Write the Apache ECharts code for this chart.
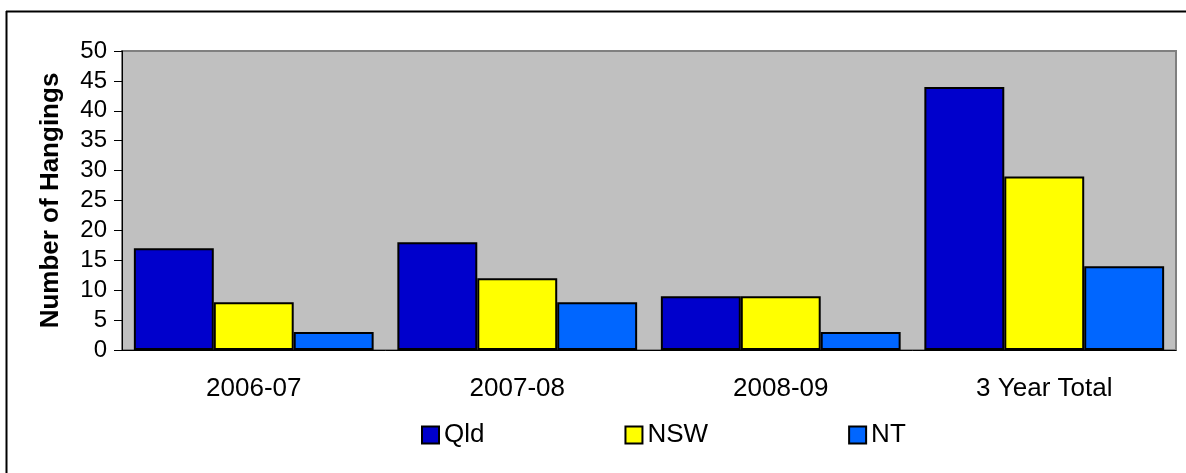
<!DOCTYPE html>
<html>
<head>
<meta charset="utf-8">
<title>Hangings</title>
<script src="https://cdn.jsdelivr.net/npm/echarts@6/dist/echarts.min.js"></script>
<style>
  html, body { margin: 0; padding: 0; background: #fff; }
  #chart { width: 1186px; height: 473px; }
</style>
</head>
<body>
<div id="chart"></div>
<script>
// data
const categories = ['2006-07', '2007-08', '2008-09', '3 Year Total'];
const qld = [17, 18, 9, 44];
const nsw = [8, 12, 9, 29];
const nt = [3, 8, 3, 14];
const yTicks = [0, 5, 10, 15, 20, 25, 30, 35, 40, 45, 50];

const chart = echarts.init(document.getElementById('chart'));
const font = 'Arial, "Liberation Sans", sans-serif';

// bar look shared by the three series
function bar(name, data, color) {
    return {
        name: name,
        type: 'bar',
        data: data,
        barGap: '0%',
        barCategoryGap: '9%',
        itemStyle: { color: color, borderColor: '#000', borderWidth: 2 },
        emphasis: { disabled: true },
    };
}

chart.setOption({
    animation: false,
    grid: {
        left: 122, right: 10, top: 51, bottom: 123,
        show: true,
        backgroundColor: '#C0C0C0',
        borderColor: '#808080',
        borderWidth: 2,
    },
    legend: {
        left: 416, top: 417,
        itemWidth: 17, itemHeight: 17,
        itemGap: 140,
        icon: 'rect',
        textStyle: { fontFamily: font, fontSize: 26, color: '#000' },
        data: ['Qld', 'NSW', 'NT'],
    },
    xAxis: {
        type: 'category',
        data: categories,
        axisLine: { lineStyle: { color: '#000', width: 1 } },
        axisTick: { length: 8, lineStyle: { color: '#000' } },
        axisLabel: { fontFamily: font, fontSize: 26, color: '#000', margin: 26 },
    },
    yAxis: {
        type: 'value',
        min: yTicks[0],
        max: yTicks[yTicks.length - 1],
        interval: 5,
        name: 'Number of Hangings',
        nameLocation: 'middle',
        nameGap: 58,
        nameTextStyle: { fontFamily: font, fontSize: 26, fontWeight: 'bold', color: '#000' },
        axisLine: { show: true, lineStyle: { color: '#000', width: 1 } },
        axisTick: { show: true, length: 8, lineStyle: { color: '#000' } },
        axisLabel: { fontFamily: font, fontSize: 24, color: '#000', margin: 15 },
        splitLine: { show: false },
    },
    series: [
        bar('Qld', qld, '#0000CC'),
        bar('NSW', nsw, '#FFFF00'),
        bar('NT', nt, '#0066FF'),
    ],
    graphic: [
        { type: 'line', shape: { x1: 6.5, y1: 11, x2: 6.5, y2: 473 }, style: { stroke: '#000', lineWidth: 2 } },
        { type: 'line', shape: { x1: 6, y1: 11.5, x2: 1186, y2: 11.5 }, style: { stroke: '#000', lineWidth: 2 } },
    ],
});
</script>
</body>
</html>
